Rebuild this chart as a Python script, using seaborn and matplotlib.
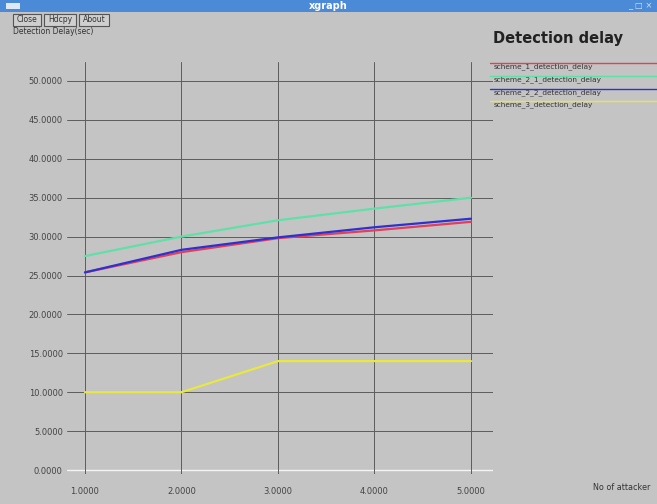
import matplotlib
matplotlib.use("Agg")
import matplotlib.pyplot as plt
from matplotlib.patches import Rectangle
from matplotlib.lines import Line2D
import seaborn as sns
import pandas as pd

attackers = [1, 2, 3, 4, 5]
scheme_1 = [25.4, 28.0, 29.8, 30.8, 31.9]
scheme_2_1 = [27.5, 30.0, 32.1, 33.6, 35.0]
scheme_2_2 = [25.4, 28.3, 29.9, 31.2, 32.3]
scheme_3 = [10.0, 10.0, 14.0, 14.0, 14.0]
series_names = ["scheme_1_detection_delay", "scheme_2_1_detection_delay",
                "scheme_2_2_detection_delay", "scheme_3_detection_delay"]
colors = ["#e0405a", "#60e0a8", "#3030d0", "#e8e840"]
y_ticks = [0, 5, 10, 15, 20, 25, 30, 35, 40, 45, 50]

rows = []
for name, vals in zip(series_names, [scheme_1, scheme_2_1, scheme_2_2, scheme_3]):
    for x, v in zip(attackers, vals):
        rows.append({"attackers": x, "delay": v, "series": name})
df = pd.DataFrame(rows)

sns.set_theme(style="white")
plt.rcParams['font.family'] = ['DejaVu Sans']
BG = "#c4c4c4"
W, H = 657, 504
fig = plt.figure(figsize=(W / 100, H / 100), dpi=100, facecolor=BG)

def fx(px):
    return px / W

def fy(py):
    return 1 - py / H

ax = fig.add_axes([fx(67), fy(474), fx(493) - fx(67), fy(62) - fy(474)])
ax.set_facecolor(BG)
for s in ax.spines.values():
    s.set_visible(False)

# grid
for t in y_ticks:
    ax.axhline(t, color="#f4f4f4" if t == 0 else "#5c5c5c", lw=1.0 if t == 0 else 0.7, zorder=1)
for t in attackers:
    ax.axvline(t, color="#5c5c5c", lw=0.7, zorder=1)

sns.lineplot(data=df, x="attackers", y="delay", hue="series", palette=colors,
             hue_order=series_names, lw=1.6, ax=ax, legend=False, zorder=3)

ax.set_xlim(0.8135, 5.228)
ax.set_ylim(-0.51, 52.44)
ax.set_xticks(attackers)
ax.set_xticklabels([f"{v:.4f}" for v in attackers])
ax.set_yticks(y_ticks)
ax.set_yticklabels([f"{v:.4f}" for v in y_ticks])
ax.tick_params(axis="both", length=0, labelsize=6, colors="#444444")
ax.tick_params(axis="y", pad=3)
ax.tick_params(axis="x", pad=9)
ax.set_xlabel("")
ax.set_ylabel("")

# window title bar
fig.add_artist(Rectangle((0, fy(12)), 1, fy(0) - fy(12), transform=fig.transFigure,
                         facecolor="#4a8ad6", edgecolor="none"))
fig.add_artist(Rectangle((fx(6), fy(9)), fx(14), fy(3) - fy(9), transform=fig.transFigure,
                         facecolor="#dfe8f5", edgecolor="none"))
fig.text(0.5, fy(6), "xgraph", color="white", fontsize=7, fontweight="bold",
         ha="center", va="center")
fig.text(fx(640), fy(6), "_ \u25a1 \u00d7", color="#cfe0f5", fontsize=6, ha="center", va="center")

# buttons
for label, x0, w in [("Close", 13, 28), ("Hdcpy", 44, 32), ("About", 79, 30)]:
    fig.add_artist(Rectangle((fx(x0), fy(26)), fx(w), fy(14) - fy(26), transform=fig.transFigure,
                             facecolor="#cfcfcf", edgecolor="#555555", lw=0.8))
    fig.text(fx(x0 + w / 2), fy(20), label, fontsize=5.5, ha="center", va="center", color="#333333")

fig.text(fx(13), fy(32), "Detection Delay(sec)", fontsize=5.5, ha="left", va="center", color="#333333")

# title and legend
fig.text(fx(493), fy(39), "Detection delay", fontsize=10.5, fontweight="bold",
         ha="left", va="center", color="#222222")
leg_y = [63, 76, 89, 101]
for name, c, yy in zip(series_names, colors, leg_y):
    fig.add_artist(Line2D([fx(490), 1], [fy(yy), fy(yy)], transform=fig.transFigure,
                          color=c, lw=1.0))
    fig.text(fx(494), fy(yy + 4), name, fontsize=5.3, ha="left", va="center", color="#333333")

fig.text(fx(593), fy(488), "No of attacker", fontsize=5.8, ha="left", va="center", color="#333333")

fig.savefig("out.png", dpi=100, facecolor=BG)
